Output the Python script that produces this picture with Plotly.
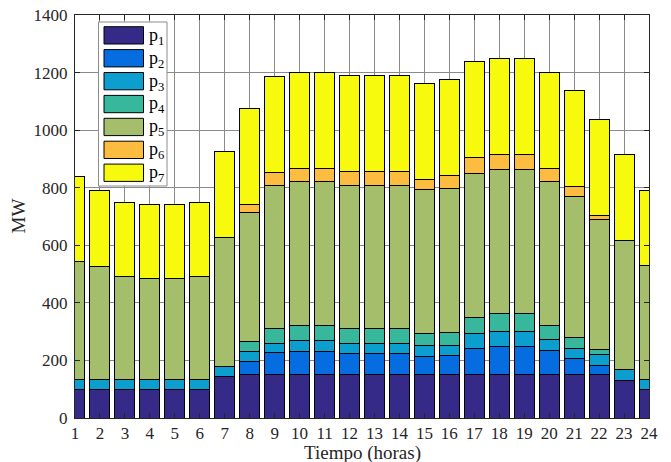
import plotly.graph_objects as go

# Hourly dispatch (MW) of seven generating units, hours 1..24
hours = list(range(1, 25))
p1 = [100, 100, 100, 100, 100, 100, 144, 150, 150, 150, 150, 150,
      150, 150, 150, 150, 150, 150, 150, 150, 150, 150, 132, 100]
p2 = [0, 0, 0, 0, 0, 0, 0, 47, 76, 82, 82, 75,
      75, 75, 65, 66, 93, 100, 100, 84, 56, 34, 0, 0]
p3 = [35, 35, 35, 35, 35, 35, 34, 35, 34, 38, 38, 35,
      35, 35, 36, 36, 49, 51, 51, 37, 37, 36, 37, 35]
p4 = [0, 0, 0, 0, 0, 0, 0, 33, 51, 52, 52, 50,
      50, 50, 43, 46, 58, 63, 63, 52, 36, 19, 0, 0]
p5 = [407, 393, 356, 348, 348, 356, 450, 450, 498, 500, 500, 499,
      499, 499, 500, 500, 500, 498, 498, 499, 489, 449, 448, 394]
p6 = [0, 0, 0, 0, 0, 0, 0, 27, 44, 45, 45, 47,
      47, 47, 35, 44, 54, 54, 54, 45, 37, 17, 0, 0]
p7 = [298, 262, 259, 257, 257, 259, 297, 333, 335, 333, 333, 333,
      333, 333, 334, 335, 334, 333, 333, 333, 334, 333, 297, 261]

series = [p1, p2, p3, p4, p5, p6, p7]
names = ["p<sub>1</sub>", "p<sub>2</sub>", "p<sub>3</sub>", "p<sub>4</sub>",
         "p<sub>5</sub>", "p<sub>6</sub>", "p<sub>7</sub>"]
colors = ["#352a87", "#056de0", "#0b9ecf", "#37b89d", "#a5be6b", "#fbbc40", "#f8fa0e"]

y_ticks = list(range(0, 1401, 200))
x_title = "Tiempo (horas)"
y_title = "MW"

W, H = 671, 462
L, R, T, B = 75, 22, 15, 44
FONT = "Liberation Serif, Times New Roman, serif"
AX = "#262626"
TXT = "#262626"

fig = go.Figure()
for vals, name, col in zip(series, names, colors):
    fig.add_trace(go.Bar(
        x=hours, y=vals, name=name,
        marker=dict(color=col, line=dict(color="#000000", width=1)),
        showlegend=False,
    ))

# Pixel -> paper helpers for the legend box and axis titles
pw, ph = W - L - R, H - T - B


def px_x(px):
    return (px - L) / pw


def px_y(py):
    return (H - B - py) / ph


# Boxed legend with wide colour swatches in the upper-left corner
shapes = [dict(type="rect", xref="paper", yref="paper",
               x0=px_x(98.5), x1=px_x(167), y0=px_y(186), y1=px_y(22),
               fillcolor="white", line=dict(color="#8c8c8c", width=1), layer="above")]
annotations = []
pitch = 22.9
for i, (name, col) in enumerate(zip(names, colors)):
    top = 26.7 + i * pitch
    shapes.append(dict(type="rect", xref="paper", yref="paper",
                       x0=px_x(104), x1=px_x(143.5), y0=px_y(top + 17.3), y1=px_y(top),
                       fillcolor=col, line=dict(color="#000000", width=1), layer="above"))
    annotations.append(dict(xref="paper", yref="paper", x=px_x(146.5), y=px_y(top + 9.5),
                            xanchor="left", yanchor="middle", showarrow=False,
                            text=name, font=dict(family=FONT, size=18, color="#000000")))

# Axis titles
annotations.append(dict(xref="paper", yref="paper", x=0.5, y=px_y(453),
                        xanchor="center", yanchor="middle", showarrow=False,
                        text=x_title, font=dict(family=FONT, size=19, color=TXT)))
annotations.append(dict(xref="paper", yref="paper", x=px_x(18), y=0.5,
                        xanchor="center", yanchor="middle", showarrow=False, textangle=-90,
                        text=y_title, font=dict(family=FONT, size=19, color=TXT)))

fig.update_layout(
    width=W, height=H,
    margin=dict(l=L, r=R, t=T, b=B, pad=0),
    barmode="stack", bargap=0.2,
    plot_bgcolor="white", paper_bgcolor="white",
    font=dict(family=FONT, size=17, color=TXT),
    shapes=shapes, annotations=annotations,
)
fig.update_xaxes(
    range=[1, 24], tickmode="array", tickvals=hours, ticktext=[str(h) for h in hours],
    showgrid=True, gridcolor="#8a8a8a", gridwidth=1,
    showline=True, linecolor=AX, linewidth=1, mirror="ticks",
    ticks="inside", ticklen=5, tickcolor=AX,
    tickfont=dict(family=FONT, size=17, color=TXT),
    automargin=False, zeroline=False,
)
fig.update_yaxes(
    range=[0, 1400], tickmode="array", tickvals=y_ticks, ticktext=[str(v) for v in y_ticks],
    showgrid=True, gridcolor="#8a8a8a", gridwidth=1,
    showline=True, linecolor=AX, linewidth=1, mirror="ticks",
    ticks="inside", ticklen=5, tickcolor=AX,
    tickfont=dict(family=FONT, size=17, color=TXT), ticklabelstandoff=3,
    automargin=False, zeroline=False,
)

fig.write_html("out.html")
